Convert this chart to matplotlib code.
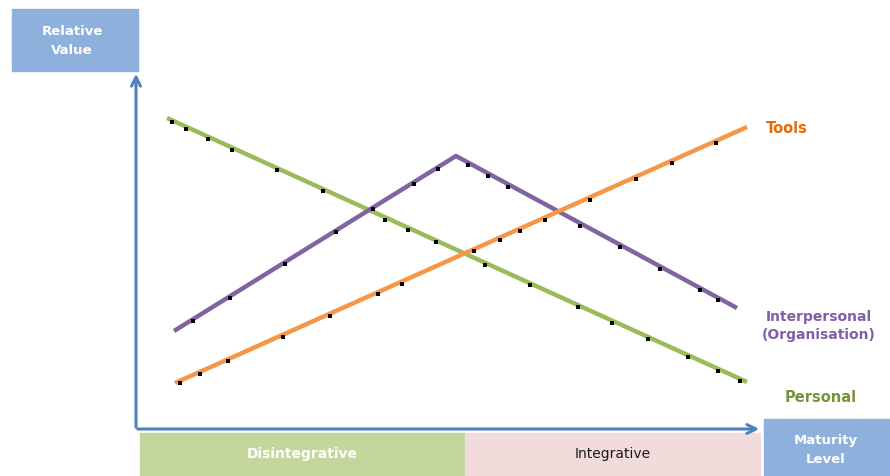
import matplotlib.pyplot as plt
from matplotlib.patches import Rectangle

# --- data (in image pixel units) ---
personal_x = [167, 747]
personal_y = [119, 383]
inter_x = [174, 456, 737]
inter_y = [332, 157, 309]
tools_x = [175, 747]
tools_y = [384, 128]

# black speckles sitting along the lines
dots_x = [172, 186, 208, 232, 277, 323, 385, 408, 436, 485, 530, 578, 612, 648, 688, 718, 740,
          193, 230, 285, 336, 373, 414, 438, 468, 488, 508, 580, 620, 660, 700, 718,
          180, 200, 228, 283, 330, 378, 402, 474, 500, 520, 545, 590, 636, 672, 716]
dots_y = [123, 130, 140, 151, 171, 192, 221, 231, 243, 266, 286, 308, 324, 340, 358, 372, 382,
          322, 299, 265, 233, 210, 185, 170, 166, 177, 188, 227, 248, 270, 291, 301,
          384, 375, 362, 338, 317, 295, 285, 252, 241, 232, 221, 201, 180, 164, 144]

stage_labels = ["Disintegrative", "Integrative"]
stage_edges = [140, 465, 760]
stage_colors = ["#c3d69b", "#f2dcdb"]
stage_text_colors = ["white", "#1a1a1a"]

AXIS_BLUE = "#4f81bd"
BOX_BLUE = "#8eb0dc"

plt.rcParams['font.family'] = ['DejaVu Sans']

fig = plt.figure(figsize=(8.9, 4.77), dpi=100)
ax = fig.add_axes([0, 0, 1, 1])
ax.set_xlim(0, 890)
ax.set_ylim(477, 0)
ax.axis("off")

# header boxes
ax.add_patch(Rectangle((12, 10), 126, 62, color=BOX_BLUE, zorder=1))
ax.text(72, 41, "Relative\nValue", color="white", fontsize=9.5, fontweight="bold",
        ha="center", va="center", linespacing=1.6)
ax.add_patch(Rectangle((764, 420), 126, 57, color=BOX_BLUE, zorder=1))
ax.text(826, 450, "Maturity\nLevel", color="white", fontsize=9.5, fontweight="bold",
        ha="center", va="center", linespacing=1.6)

# stage bars
for i, lab in enumerate(stage_labels):
    x0, x1 = stage_edges[i], stage_edges[i + 1]
    ax.add_patch(Rectangle((x0, 434), x1 - x0, 43, color=stage_colors[i], zorder=1))
    ax.text((x0 + x1) / 2, 454, lab, color=stage_text_colors[i], fontsize=10,
            fontweight="bold" if i == 0 else "normal", ha="center", va="center")

# axes arrows
ax.annotate("", xy=(136, 72), xytext=(136, 431),
            arrowprops=dict(arrowstyle="->", color=AXIS_BLUE, lw=2.2, mutation_scale=16))
ax.annotate("", xy=(762, 430), xytext=(135, 430),
            arrowprops=dict(arrowstyle="->", color=AXIS_BLUE, lw=2.2, mutation_scale=16))

# lines
ax.plot(personal_x, personal_y, color="#9bbb59", lw=3.2, solid_capstyle="butt", zorder=3)
ax.plot(inter_x, inter_y, color="#8064a2", lw=3.2, solid_capstyle="butt", zorder=3)
ax.plot(tools_x, tools_y, color="#f79646", lw=3.2, solid_capstyle="butt", zorder=3)
ax.scatter(dots_x, dots_y, s=5, color="black", marker="s", zorder=4, linewidths=0)

# line labels
ax.text(787, 129, "Tools", color="#e46c0a", fontsize=10.5, fontweight="bold", ha="center", va="center")
ax.text(819, 326, "Interpersonal\n(Organisation)", color="#7f5fa8", fontsize=10, fontweight="bold",
        ha="center", va="center", linespacing=1.3)
ax.text(821, 398, "Personal", color="#77933c", fontsize=10.5, fontweight="bold", ha="center", va="center")

fig.savefig("out.png", dpi=100)
